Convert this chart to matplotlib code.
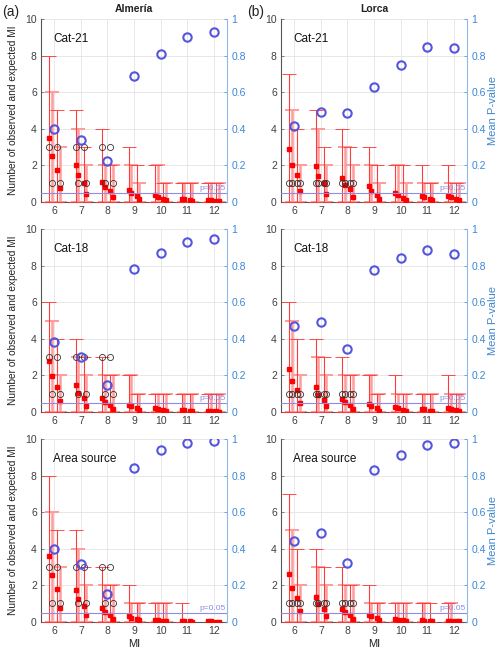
import numpy as np
import matplotlib
matplotlib.use("Agg")
import matplotlib.pyplot as plt

plt.rcParams['font.family'] = ['Liberation Sans', 'DejaVu Sans']

# ---------------- data ----------------
mi = [6, 7, 8, 9, 10, 11, 12]
offsets = [-0.2, -0.1, 0.1, 0.2]
sites = ["Almería", "Lorca"]
sources = ["Cat-21", "Cat-18", "Area source"]

# observed MI counts (rows = sub-positions), Almería / Lorca
alm_obs = [[3, 3, 3, 0, 0, 0, 0],
           [1, 1, 1, 0, 0, 0, 0],
           [3, 3, 3, 0, 0, 0, 0],
           [1, 1, 1, 0, 0, 0, 0]]
lor_obs = [[1, 1, 1, 0, 0, 0, 0],
           [1, 1, 1, 0, 0, 0, 0],
           [1, 1, 1, 0, 0, 0, 0],
           [1, 1, 1, 0, 0, 0, 0]]

# ---- Almería Cat-21
alm_c21_upper = [[8, 5, 4, 3, 2, 1, 1],
                 [6, 4, 2, 2, 2, 1, 1],
                 [5, 3, 2, 2, 1, 1, 1],
                 [3, 2, 2, 1, 1, 1, 1]]
alm_c21_exp = [[3.50, 2.03, 1.10, 0.64, 0.36, 0.16, 0.10],
               [2.50, 1.45, 0.80, 0.46, 0.27, 0.13, 0.08],
               [1.75, 1.00, 0.58, 0.33, 0.15, 0.09, 0.06],
               [0.75, 0.40, 0.26, 0.13, 0.09, 0.05, 0.03]]
alm_c21_p = [0.40, 0.335, 0.22, 0.69, 0.81, 0.90, 0.93]

# ---- Lorca Cat-21
lor_c21_upper = [[7, 5, 4, 3, 2, 2, 2],
                 [5, 4, 3, 2, 2, 1, 1],
                 [4, 3, 3, 2, 2, 1, 1],
                 [2, 2, 2, 1, 1, 1, 1]]
lor_c21_exp = [[2.87, 1.97, 1.31, 0.84, 0.50, 0.29, 0.30],
               [2.03, 1.40, 0.93, 0.58, 0.36, 0.24, 0.25],
               [1.44, 1.00, 0.67, 0.38, 0.22, 0.15, 0.16],
               [0.58, 0.40, 0.27, 0.17, 0.10, 0.07, 0.08]]
lor_c21_p = [0.415, 0.49, 0.488, 0.625, 0.75, 0.845, 0.84]

# ---- Almería Cat-18
alm_c18_upper = [[6, 4, 3, 2, 1, 1, 1],
                 [5, 3, 2, 2, 1, 1, 1],
                 [4, 3, 2, 1, 1, 1, 1],
                 [2, 2, 2, 1, 1, 1, 1]]
alm_c18_exp = [[2.77, 1.50, 0.75, 0.40, 0.22, 0.12, 0.08],
               [1.95, 1.04, 0.53, 0.30, 0.17, 0.10, 0.07],
               [1.37, 0.75, 0.37, 0.20, 0.10, 0.05, 0.04],
               [0.58, 0.31, 0.16, 0.10, 0.05, 0.03, 0.02]]
alm_c18_p = [0.385, 0.30, 0.15, 0.785, 0.87, 0.93, 0.945]

# ---- Lorca Cat-18
lor_c18_upper = [[6, 4, 3, 2, 2, 1, 2],
                 [5, 3, 2, 2, 1, 1, 1],
                 [4, 3, 2, 1, 1, 1, 1],
                 [2, 2, 2, 1, 1, 1, 1]]
lor_c18_exp = [[2.35, 1.37, 0.73, 0.42, 0.28, 0.18, 0.22],
               [1.68, 0.95, 0.53, 0.32, 0.22, 0.14, 0.17],
               [1.20, 0.67, 0.37, 0.20, 0.10, 0.08, 0.10],
               [0.49, 0.30, 0.15, 0.07, 0.05, 0.04, 0.05]]
lor_c18_p = [0.468, 0.49, 0.346, 0.776, 0.84, 0.885, 0.862]

# ---- Almería Area source
alm_area_upper = [[8, 5, 3, 2, 1, 1, 0],
                  [6, 4, 2, 1, 1, 0, 0],
                  [5, 3, 2, 1, 1, 0, 0],
                  [3, 2, 2, 1, 1, 0, 0]]
alm_area_exp = [[3.58, 1.72, 0.73, 0.30, 0.10, 0.03, 0.02],
                [2.53, 1.23, 0.53, 0.22, 0.08, 0.03, 0.02],
                [1.80, 0.86, 0.37, 0.15, 0.05, 0.02, 0.01],
                [0.73, 0.37, 0.15, 0.07, 0.02, 0.01, 0.01]]
alm_area_p = [0.40, 0.317, 0.15, 0.842, 0.939, 0.978, 0.99]

# ---- Lorca Area source
lor_area_upper = [[7, 4, 3, 2, 1, 1, 1],
                  [5, 3, 2, 1, 1, 1, 1],
                  [4, 3, 2, 1, 1, 1, 0],
                  [2, 2, 2, 1, 1, 0, 0]]
lor_area_exp = [[2.60, 1.34, 0.68, 0.35, 0.15, 0.08, 0.06],
                [1.85, 0.95, 0.52, 0.30, 0.12, 0.06, 0.05],
                [1.32, 0.68, 0.35, 0.19, 0.07, 0.04, 0.03],
                [0.60, 0.30, 0.17, 0.11, 0.04, 0.02, 0.02]]
lor_area_p = [0.443, 0.486, 0.319, 0.83, 0.915, 0.965, 0.98]

p_threshold = 0.05

panels = [
    [(alm_c21_upper, alm_c21_exp, alm_c21_p, alm_obs), (lor_c21_upper, lor_c21_exp, lor_c21_p, lor_obs)],
    [(alm_c18_upper, alm_c18_exp, alm_c18_p, alm_obs), (lor_c18_upper, lor_c18_exp, lor_c18_p, lor_obs)],
    [(alm_area_upper, alm_area_exp, alm_area_p, alm_obs), (lor_area_upper, lor_area_exp, lor_area_p, lor_obs)],
]

# ---------------- style ----------------
RED = '#ff3b3b'
PINK = '#ff9c9c'
bar_colors = [RED, PINK, RED, PINK]
bar_lw = [0.8, 1.8, 0.8, 1.8]
BLUE_PT = '#5555dd'
PLINE = '#8c8ce6'
RAX = '#3d86d0'
GRAY = '#404040'

fig = plt.figure(figsize=(5, 6.5), dpi=100)

lefts = [0.082, 0.562]
bottoms = [0.6897, 0.3662, 0.0435]
w, h = 0.372, 0.2811

for r in range(3):
    for c in range(2):
        upper, exp_, pval, obs = panels[r][c]
        ax = fig.add_axes([lefts[c], bottoms[r], w, h])
        ax.set_xlim(5.5, 12.5)
        ax.set_ylim(0, 10)
        ax.set_xticks(mi)
        ax.set_yticks(np.arange(0, 11, 2))
        ax.grid(True, color='#e4e4e4', lw=0.6)
        ax.set_axisbelow(True)
        for k, off in enumerate(offsets):
            xs = np.array(mi) + off
            up = np.array(upper[k], dtype=float)
            m = up > 0
            ax.errorbar(xs[m], up[m], yerr=[up[m], np.zeros(m.sum())], fmt='none',
                        ecolor=bar_colors[k], elinewidth=bar_lw[k], capsize=4.8,
                        capthick=bar_lw[k] * 0.8, zorder=2 + (k % 2 == 0))
        for k, off in enumerate(offsets):
            xs = np.array(mi) + off
            ax.plot(xs, exp_[k], 's', color='#ff0000', ms=2.8, mec='#ff0000', zorder=5)
            ob = np.array(obs[k], dtype=float)
            mo = ob > 0
            ax.plot(xs[mo], ob[mo], 'o', mfc='none', mec='#333333', ms=4.4, mew=0.6, zorder=6)
        ax.spines['top'].set_visible(False)
        ax.spines['left'].set_color('#555555')
        ax.spines['bottom'].set_color('#555555')
        ax.spines['right'].set_visible(False)
        ax.tick_params(direction='in', length=2, width=0.5, labelsize=7.5,
                       colors='#555555', labelcolor=GRAY, pad=3)
        ax.tick_params(axis='x', length=0)
        ax.text(5.95, 8.9, sources[r], fontsize=8.5, va='center', ha='left', color='#111111')

        ax2 = ax.twinx()
        ax2.set_ylim(0, 1)
        ax2.set_yticks(np.arange(0, 1.01, 0.2))
        ax2.set_yticklabels(['0', '0.2', '0.4', '0.6', '0.8', '1'])
        for sp in ['top', 'left', 'bottom']:
            ax2.spines[sp].set_visible(False)
        ax2.spines['right'].set_color('#8fb9e6')
        ax2.tick_params(direction='in', length=2, width=0.5, labelsize=7.5,
                        colors=RAX, labelcolor=RAX, pad=3)
        ax2.axhline(p_threshold, color=PLINE, lw=0.8, zorder=3)
        ax2.text(12.45, p_threshold + 0.003, 'p=0.05', fontsize=6, color=PLINE,
                 ha='right', va='bottom')
        ax2.plot(mi, pval, 'o', mfc='none', mec=BLUE_PT, ms=6, mew=1.5, zorder=7)

        if c == 0:
            ax.set_ylabel('Number of observed and expected MI', fontsize=7.3,
                          color='#222222', labelpad=5)
        else:
            ax2.set_ylabel('Mean P-value', fontsize=8, color=RAX, labelpad=2)
        if r == 0:
            ax.set_title(sites[c], fontsize=7.5, fontweight='bold', pad=5, color='#222222')
        if r == 2:
            ax.set_xlabel('MI', fontsize=8, color='#222222', labelpad=2)

fig.text(0.004, 0.982, '(a)', fontsize=10, ha='left', va='center', color='#222222')
fig.text(0.494, 0.982, '(b)', fontsize=10, ha='left', va='center', color='#222222')

fig.savefig('out.png', dpi=100)
